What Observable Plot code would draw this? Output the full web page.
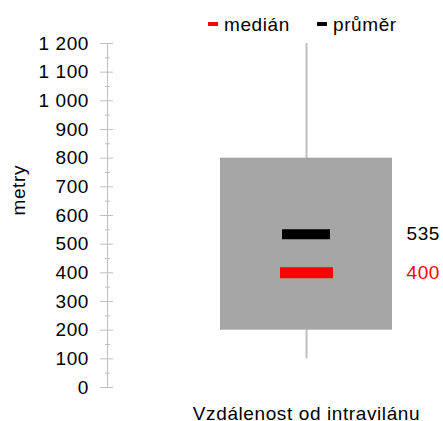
<!DOCTYPE html>
<html>
<head>
<meta charset="utf-8">
<script src="https://cdn.jsdelivr.net/npm/d3@7"></script>
<script src="https://cdn.jsdelivr.net/npm/@observablehq/plot@0.6"></script>
<style>
  body { margin: 0; background: white; font-family: "Liberation Sans", Arial, sans-serif; }
  #wrap { position: relative; width: 443px; height: 421px; overflow: hidden; }
  .leg { position: absolute; top: 15px; font-size: 19px; line-height: 20px; letter-spacing: 0.6px; color: #000; white-space: nowrap; }
  .dash { display: inline-block; width: 10px; height: 4px; vertical-align: middle; margin-right: 6px; position: relative; top: -2px; }
</style>
</head>
<body>
<div id="wrap"></div>
<script>
const categories = ["Vzdálenost od intravilánu"];
const minValues = [100];
const q1Values = [200];
const q3Values = [800];
const maxValues = [1200];
const medianValues = [400];
const meanValues = [535];
const yTicks = [0, 100, 200, 300, 400, 500, 600, 700, 800, 900, 1000, 1100, 1200];
const yMinorTicks = [50, 150, 250, 350, 450, 550, 650, 750, 850, 950, 1050, 1150];
const legendLabels = ["medián", "průměr"];
const legendColors = ["#ff0000", "#000000"];
const yLabel = "metry";

const table = categories.map((c, i) => ({
  cat: c, min: minValues[i], q1: q1Values[i], q3: q3Values[i], max: maxValues[i],
  median: medianValues[i], mean: meanValues[i]
}));

const fmt = d3.formatLocale({decimal: ",", thousands: "\u00a0", grouping: [3], currency: ["", ""]}).format(",");

const chart = Plot.plot({
  width: 443,
  height: 421,
  marginTop: 43,
  marginBottom: 34,
  marginLeft: 107,
  marginRight: 39,
  style: {fontFamily: "'Liberation Sans', Arial, sans-serif", fontSize: "19px", letterSpacing: "0.6px", color: "#000", background: "white", overflow: "visible"},
  x: {type: "band", domain: categories, paddingInner: 0, paddingOuter: 0.3584, align: 0.903},
  y: {domain: [0, 1200]},
  marks: [
    Plot.frame({anchor: "left", stroke: "#bfbfbf"}),
    Plot.tickY(yMinorTicks, {y: d => d, stroke: "#bfbfbf", insetLeft: -2, insetRight: 294}),
    Plot.tickY(yTicks, {y: d => d, stroke: "#bfbfbf", insetLeft: -7, insetRight: 291}),
    Plot.axisY(yTicks, {tickSize: 0, tickPadding: 18.5, tickFormat: fmt, fill: "#000", fontSize: 19, label: null}),
    Plot.axisX({tickSize: 0, tickPadding: 19, fill: "#000", fontSize: 19, label: null}),
    Plot.ruleX(table, {x: "cat", y1: "min", y2: "max", stroke: "#bfbfbf", strokeWidth: 2}),
    Plot.barY(table, {x: "cat", y1: "q1", y2: "q3", fill: "#a6a6a6"}),
    Plot.tickY(table, {x: "cat", y: "mean", stroke: "#000", strokeWidth: 10, insetLeft: 62, insetRight: 62}),
    Plot.tickY(table, {x: "cat", y: "median", stroke: "#ff0000", strokeWidth: 11, insetLeft: 60, insetRight: 59}),
    Plot.text(table, {x: "cat", y: "mean", text: d => String(d.mean), dx: 100, textAnchor: "start", fill: "#000", fontSize: 19}),
    Plot.text(table, {x: "cat", y: "median", text: d => String(d.median), dx: 100, textAnchor: "start", fill: "#ff0000", fontSize: 19}),
    Plot.text([yLabel], {text: d => d, frameAnchor: "left", rotate: -90, dx: -89, fill: "#000", fontSize: 19})
  ]
});

const wrap = document.getElementById("wrap");
wrap.appendChild(chart);
const legendLefts = [208, 317];
legendLabels.forEach((lab, i) => {
  const d = document.createElement("div");
  d.className = "leg";
  d.style.left = legendLefts[i] + "px";
  const s = document.createElement("span");
  s.className = "dash";
  s.style.background = legendColors[i];
  d.appendChild(s);
  d.appendChild(document.createTextNode(lab));
  wrap.appendChild(d);
});
</script>
</body>
</html>
